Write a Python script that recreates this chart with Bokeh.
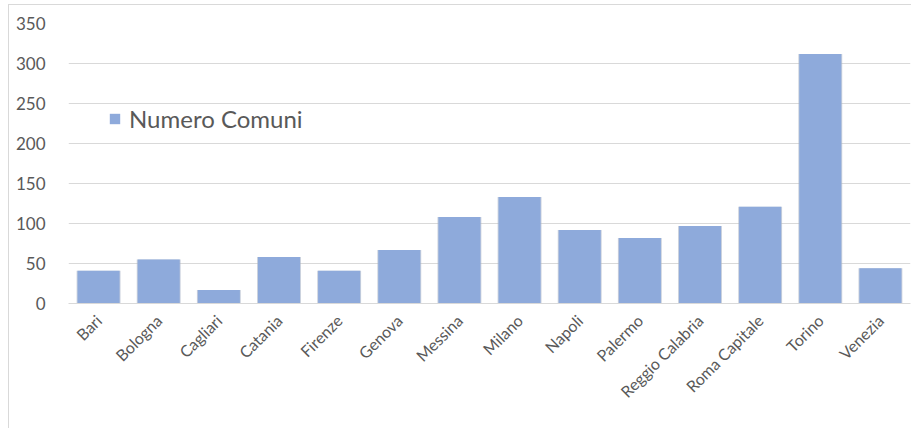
from bokeh.plotting import figure
from bokeh.models import Range1d, Legend, LegendItem, ColumnDataSource
from bokeh.embed import file_html
from bokeh.resources import INLINE
import math

cities = ["Bari", "Bologna", "Cagliari", "Catania", "Firenze", "Genova", "Messina",
          "Milano", "Napoli", "Palermo", "Reggio Calabria", "Roma Capitale", "Torino", "Venezia"]
comuni = [41, 55, 17, 58, 41, 67, 108, 133, 92, 82, 97, 121, 312, 44]
y_ticks = [0, 50, 100, 150, 200, 250, 300, 350]
series_name = "Numero Comuni"

FONT = "Lato"
GRAY = "#595959"
GRID = "#d9d9d9"
BAR = "#8eaadb"

src = ColumnDataSource(dict(city=cities, n=comuni))

p = figure(x_range=cities, y_range=Range1d(0, 350), width=903, height=424,
           output_backend="svg", toolbar_location=None,
           min_border_left=59, min_border_right=2, min_border_top=18, min_border_bottom=126)
p.margin = (4, 0, 0, 8)
p.styles = {"border-left": "1px solid #d9d9d9", "border-top": "1px solid #d9d9d9"}
p.outline_line_color = None
p.background_fill_color = "white"

# soft shadow behind bars
p.vbar(x="city", top="n", width=0.73, source=src, fill_color="#aab4c6", line_color=None,
       fill_alpha=0.6)
r = p.vbar(x="city", top="n", width=0.70, source=src, fill_color=BAR, line_color=None)

p.yaxis.ticker = y_ticks
p.yaxis.axis_line_color = None
p.yaxis.major_tick_line_color = None
p.yaxis.minor_tick_line_color = None
p.yaxis.major_label_text_font = FONT
p.yaxis.major_label_text_font_size = "17px"
p.yaxis.major_label_text_color = GRAY
p.yaxis.major_label_standoff = 17

p.xaxis.axis_line_color = GRID
p.xaxis.major_tick_line_color = None
p.xaxis.minor_tick_line_color = None
p.xaxis.major_label_orientation = math.pi / 4
p.xaxis.major_label_text_font = FONT
p.xaxis.major_label_text_font_size = "16px"
p.xaxis.major_label_text_color = GRAY
p.xaxis.major_label_standoff = 8

p.xgrid.grid_line_color = None
p.ygrid.grid_line_color = GRID
p.x_range.range_padding = 0

legend = Legend(items=[LegendItem(label=series_name, renderers=[r])], location=(30, 160))
legend.background_fill_alpha = 0
legend.border_line_alpha = 0
legend.glyph_width = 13
legend.glyph_height = 13
legend.label_text_font = FONT
legend.label_text_font_size = "24px"
legend.label_text_color = GRAY
legend.label_standoff = 8
p.add_layout(legend, "center")

open("out.html", "w").write(file_html(p, INLINE))
